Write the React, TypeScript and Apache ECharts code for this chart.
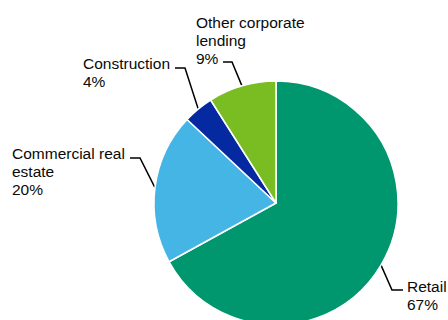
import React, { useEffect, useRef } from "react";
import * as echarts from "echarts";

const categories = ["Retail", "Commercial real estate", "Construction", "Other corporate lending"];
const labelTexts = ["Retail", "Commercial real\nestate", "Construction", "Other corporate\nlending"];
const values = [67, 20, 4, 9];
const colors = ["#00976F", "#45B5E6", "#0529A0", "#79BD23"];

// label placement: text top-left, elbow point, end of horizontal line
const labelBoxes = [
  { x: 407, y: 277, elbow: [392, 290], end: [403, 290] },
  { x: 12, y: 144, elbow: [140, 158], end: [130, 158] },
  { x: 83, y: 54, elbow: [185, 68], end: [175, 68] },
  { x: 196, y: 13, elbow: [232, 62], end: [223, 62] },
];

const CX = 276;
const CY = 203;
const R = 122;

export default function App() {
  const ref = useRef<HTMLDivElement>(null);
  useEffect(() => {
    if (!ref.current) return;
    const chart = echarts.init(ref.current, null, { renderer: "svg" });
    const total = values.reduce((a, b) => a + b, 0);
    chart.setOption({
      animation: false,
      backgroundColor: "#ffffff",
      series: [
        {
          type: "pie",
          center: [CX, CY],
          radius: [0, R],
          startAngle: 90,
          clockwise: true,
          avoidLabelOverlap: false,
          itemStyle: { borderColor: "#ffffff", borderWidth: 1.5 },
          label: {
            show: true,
            position: "outside",
            fontFamily: "'Liberation Sans', Arial, sans-serif",
            fontSize: 15.5,
            lineHeight: 18,
            color: "#0a0a0a",
            formatter: (p: any) => `${labelTexts[p.dataIndex]}\n${p.value}%`,
          },
          labelLine: {
            show: true,
            lineStyle: { color: "#000000", width: 1.5 },
          },
          labelLayout: (params: any) => {
            const i = params.dataIndex;
            const b = labelBoxes[i];
            let p0 = params.labelLinePoints && params.labelLinePoints[0];
            if (!p0) {
              let before = 0;
              for (let k = 0; k < i; k++) before += values[k];
              const mid = ((before + values[i] / 2) / total) * Math.PI * 2;
              p0 = [CX + R * Math.sin(mid), CY - R * Math.cos(mid)];
            }
            return {
              x: b.x,
              y: b.y,
              align: "left",
              verticalAlign: "top",
              labelLinePoints: [p0, b.elbow, b.end],
            };
          },
          data: categories.map((c, i) => ({
            name: c,
            value: values[i],
            itemStyle: { color: colors[i] },
          })),
        },
      ],
    });
    return () => chart.dispose();
  }, []);
  return (
    <div
      ref={ref}
      style={{ position: "fixed", left: 0, top: 0, width: 448, height: 320 }}
    />
  );
}
